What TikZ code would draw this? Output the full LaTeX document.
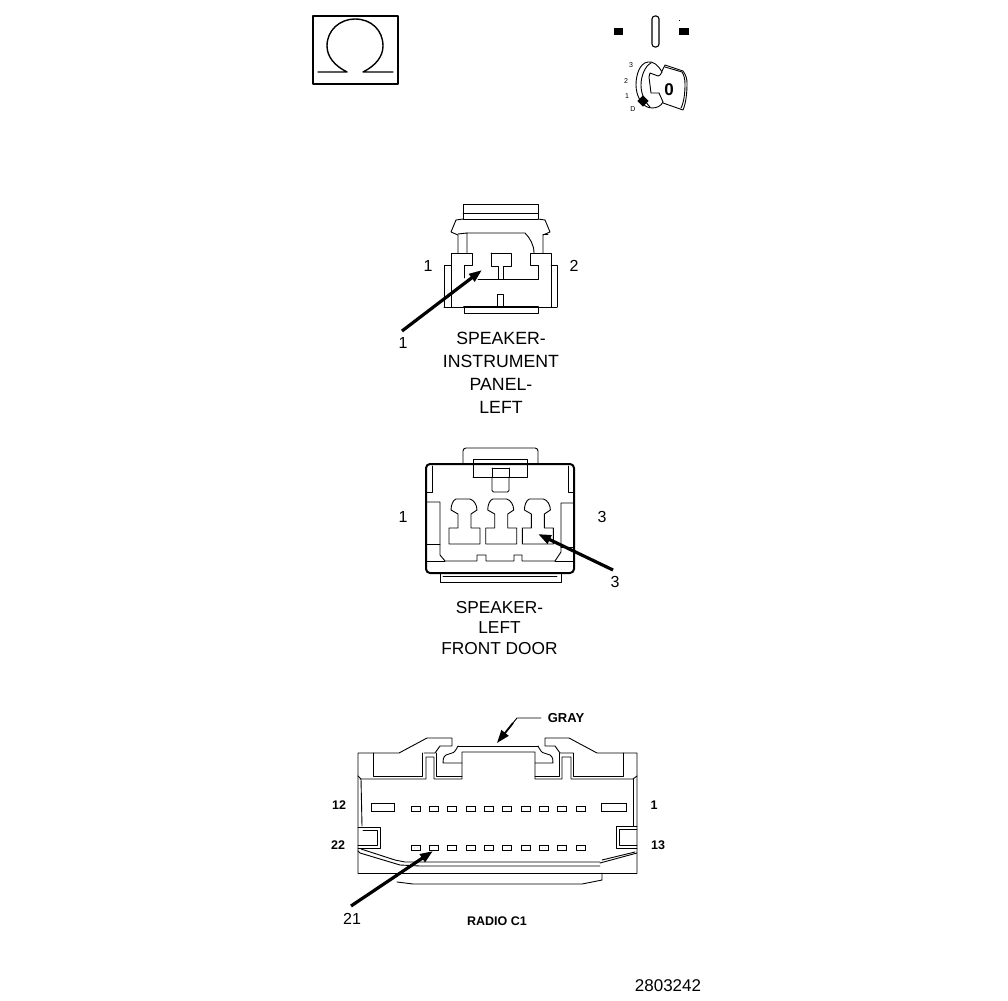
\documentclass[tikz,border=0pt]{standalone}
\usepackage{fontspec}
\setmainfont{Liberation Sans}
\usetikzlibrary{arrows.meta,calc}
\tikzset{
  ln/.style={draw=black,line width=0.9pt,line join=round,line cap=round},
  hv/.style={draw=black,line width=2pt,line join=round},
  callout/.style={draw=black,line width=3.2pt,-{Triangle[length=13pt,width=9pt]},shorten >=0pt},
  lab/.style={inner sep=0pt,font=\fontsize{16}{16}\selectfont},
  pinlab/.style={inner sep=0pt,font=\fontsize{12.5}{13}\selectfont\bfseries},
  captext/.style={inner sep=0pt,align=center,font=\fontsize{17.7}{22.9}\selectfont},
  small/.style={inner sep=0pt,font=\fontsize{12.5}{13}\selectfont\bfseries},
  tiny/.style={inner sep=0pt,font=\fontsize{7}{7}\selectfont},
  pin/.style={draw=black,line width=0.8pt}
}
\begin{document}
\begin{tikzpicture}[x=1pt,y=-1pt]
\useasboundingbox (0,0) rectangle (1008,1000);
% Omega symbol
\draw[hv] (313,16) rectangle (398,84);
\draw[ln,line width=1.4pt] (318,72) -- (347,72) .. controls (335,66) and (327,57) .. (327,46) .. controls (327,30) and (340,19) .. (355,19) .. controls (371,19) and (383,30) .. (383,46) .. controls (383,57) and (375,66) .. (363,72) -- (393,72);
% ignition key
\fill (614,28) rectangle (623,35);
\fill (679,28) rectangle (689,35);
\fill (679,20) rectangle (680,21);
\draw[ln,line width=1.1pt,rounded corners=3pt] (652,16) rectangle (659,47);
\node[tiny] (k3) at (631,65) {3};
\node[tiny] (k2) at (626,81) {2};
\node[tiny] (k1) at (627,96) {1};
\node[tiny] (k0) at (633,109) {D};
% key disc
\draw[ln] (662,72) .. controls (658,65) and (653,61) .. (648,62) .. controls (640,63) and (636,74) .. (636,85) .. controls (636,96) and (642,108) .. (652,108) .. controls (657,108) and (661,106) .. (663,102);
\draw[ln] (651,63) .. controls (645,66) and (641,76) .. (641,85) .. controls (641,93) and (644,101) .. (650,107);
\draw[ln] (662,72) .. controls (661,75) and (659,76) .. (658,76) -- (650,73) -- (649,77) -- (651,93) -- (659,93) -- (663,102);
% key head
\draw[ln] (662,71) -- (665,65) -- (683,71) .. controls (686,75) and (687,79) .. (687,83) .. controls (687,93) and (686,103) .. (683,110) -- (663,103);
\draw[ln] (665,67) -- (682,72) .. controls (684,75) and (685,79) .. (685,84) .. controls (685,93) and (684,102) .. (681,108);
\node[inner sep=0pt,font=\fontsize{17}{17}\selectfont\bfseries] (k4) at (669,90) {0};
\fill[rotate around={45:(643,101)}] (639,97) rectangle (647,105);
% Speaker instrument panel connector
\draw[ln] (463,219) -- (463,204) -- (538,204) -- (538,219);
\draw[ln] (463,213) -- (538,213);
\draw[ln] (463,219) -- (538,219);
\draw[ln] (463,219) -- (456,220) -- (451,232) -- (458,235) -- (458,253);
\draw[ln] (538,219) -- (545,220) -- (550,232) -- (543,235) -- (543,253);
\draw[ln] (458,234) -- (467,233) -- (467,253);
\draw[ln] (467,233) -- (525,233) .. controls (530,238) and (534,245) .. (534,253);
\draw[ln] (543,234) -- (548,234);
\draw[ln] (451,307) -- (451,253) -- (472,253) -- (472,265) -- (464,265) -- (464,278);
\draw[ln] (478,279) -- (538,279) -- (538,265) -- (530,265) -- (530,253) -- (551,253) -- (551,307);
\draw[ln] (491,253) -- (511,253) -- (511,266) -- (503,266) -- (503,279);
\draw[ln] (491,253) -- (491,266) -- (498,266) -- (498,279);
\draw[ln] (497,306) -- (497,294) -- (503,294) -- (503,306);
\draw[ln] (451,265) -- (444,265) -- (444,307);
\draw[ln] (551,265) -- (557,265) -- (557,307);
\draw[ln] (444,307) -- (557,307);
\draw[ln,line width=1.6pt] (464,306.5) -- (538,306.5);
\draw[ln] (464,307) -- (464,313) -- (538,313) -- (538,307);
\coordinate (a1s) at (402,331);
\coordinate (a1e) at (482,270);
\draw[callout] (a1s) -- (a1e);
\node[lab] (p11) at (428,266) {1};
\node[lab] (p12) at (574,266) {2};
\node[lab] (c1) at (403,343) {1};
\node[captext] (t1) at (501,372.5) {SPEAKER-\\INSTRUMENT\\PANEL-\\LEFT};
% Speaker left front door connector
\draw[hv,rounded corners=4pt] (426,464) rectangle (574,573);
\draw[ln,rounded corners=3pt] (463,464) -- (463,448) -- (538,448) -- (538,464);
\draw[ln] (473,477) -- (473,459) -- (527,459) -- (527,477) -- (473,477);
\draw[ln,rounded corners=1.5pt] (492,477) -- (492,492) -- (509,492) -- (509,477);
\draw[ln] (492,468) -- (492,477);
\draw[ln] (509,468) -- (509,477);
\draw[ln] (492,468) -- (509,468);
\draw[ln] (432,466) -- (432,492) -- (426,492);
\draw[ln] (568,466) -- (568,492) -- (574,492);
\draw[ln] (426,502) -- (440,502) -- (440,555) -- (445,561) -- (477,561) -- (477,555) -- (486,555) -- (486,561) -- (514,561) -- (514,555) -- (522,555) -- (522,561) -- (555,561) -- (561,552) -- (561,503) -- (574,503);
\draw[ln] (426,544) -- (440,544);
\draw[ln] (561,547) -- (574,547);
\draw[ln] (426,561) -- (445,561);
\draw[ln] (555,561) -- (574,561);
\draw[ln] (440,573) -- (440,582) -- (561,582) -- (561,573);
\draw[ln] (443,576) -- (557,576);
\foreach \dx in {0,36.7,73.4}{
\draw[ln,xshift=\dx] (456,499) -- (470,499) .. controls (474,500) and (477,505) .. (477,510) -- (471,514) -- (471,528) -- (480,528) -- (480,544) -- (449,544) -- (449,528) -- (458,528) -- (458,514) -- (451,510) .. controls (451,505) and (453,500) .. (456,499);
}
\coordinate (a2s) at (613,570);
\coordinate (a2e) at (538,534);
\draw[callout] (a2s) -- (a2e);
\node[lab] (p21) at (403,517) {1};
\node[lab] (p23) at (602,517) {3};
\node[lab] (c2) at (615,582) {3};
\node[captext,font=\fontsize{17.3}{20.7}\selectfont] (t2) at (499.5,628) {SPEAKER-\\LEFT\\FRONT DOOR};
% Radio C1 connector
\draw[ln] (358,873) -- (358,753) -- (399,753) -- (427,738) -- (452,738) -- (452,746) -- (440,746) -- (435,753) -- (424,753);
\draw[ln] (637,873) -- (637,753) -- (597,753) -- (569,738) -- (545,738) -- (545,746) -- (555,746) -- (560,753) -- (573,753);
\draw[ln] (358,873) -- (637,873);
\draw[ln] (373,753) -- (373,776) -- (422,776) -- (422,753);
\draw[ln] (436,753) -- (436,776) -- (462,776);
\draw[ln] (623,753) -- (623,776) -- (573,776) -- (573,753);
\draw[ln] (559,753) -- (559,776) -- (535,776);
\draw[ln] (360,779) -- (426,779) -- (426,757) -- (434,757) -- (434,779) -- (462,779) -- (462,752) -- (535,752) -- (535,779) -- (562,779) -- (562,757) -- (571,757) -- (571,779) -- (633,779) -- (637,776);
\draw[ln] (358,776) -- (361,779) -- (362,826);
\draw[ln] (633,779) -- (633,826);
\draw[ln] (458,746) -- (538,746);
\draw[ln] (458,746) .. controls (456,750) and (454,753) .. (452,753) -- (446,755) .. controls (443,757) and (443,760) .. (443,763) -- (462,763);
\draw[ln] (538,746) .. controls (540,750) and (542,753) .. (544,753) -- (550,755) .. controls (553,757) and (553,760) .. (553,763) -- (535,763);
\draw[pin] (371,803) rectangle (394,811);
\draw[pin] (601,803) rectangle (626,811);
\foreach \x in {411,429.3,447.7,466,484.3,502.7,521,539.3,557.7,576}{
\draw[pin] (\x,806) rectangle (\x+9,811);
\draw[pin] (\x,845) rectangle (\x+9,850);
}
\draw[ln] (358,827) -- (380,827) -- (380,848) -- (358,848);
\draw[ln] (363,830) -- (377,830) -- (377,845) -- (358,845);
\draw[ln] (637,826) -- (616,826) -- (616,848) -- (637,848);
\draw[ln] (637,829) -- (619,829) -- (619,845) -- (637,845);
\draw[ln] (358,851) -- (360,853) -- (400,865) -- (420,866) -- (600,866);
\draw[ln] (361,849) -- (395,860) -- (405,862) -- (600,862);
\draw[ln] (600,863) -- (637,853);
\draw[ln] (602,860) -- (635,852);
\draw[ln] (397,882) -- (413,884) -- (582,884) -- (602,880) -- (602,873);
\coordinate (a3s) at (351,906);
\coordinate (a3e) at (433,851);
\draw[callout] (a3s) -- (a3e);
\node[pinlab] (p12l) at (339,805) {12};
\node[pinlab] (p22l) at (338,845) {22};
\node[pinlab] (p1r) at (654,805) {1};
\node[pinlab] (p13r) at (658,845) {13};
\node[lab] (c3) at (352,919) {21};
\node[small,font=\fontsize{13}{13}\selectfont\bfseries] (gray) at (566,718) {GRAY};
\coordinate (g1) at (541,718);
\coordinate (g2) at (517,718);
\coordinate (g3) at (497,743);
\draw[ln] (g1) -- (g2) -- ($(g2)!0.3!(g3)$);
\draw[draw=black,line width=1.8pt,-{Triangle[length=13pt,width=9pt]}] ($(g2)!0.2!(g3)$) -- (g3);
\node[small] (t3) at (497,921) {RADIO C1};
\node[lab,font=\fontsize{17}{17}\selectfont] (num) at (668,986) {2803242};
\end{tikzpicture}
\end{document}
